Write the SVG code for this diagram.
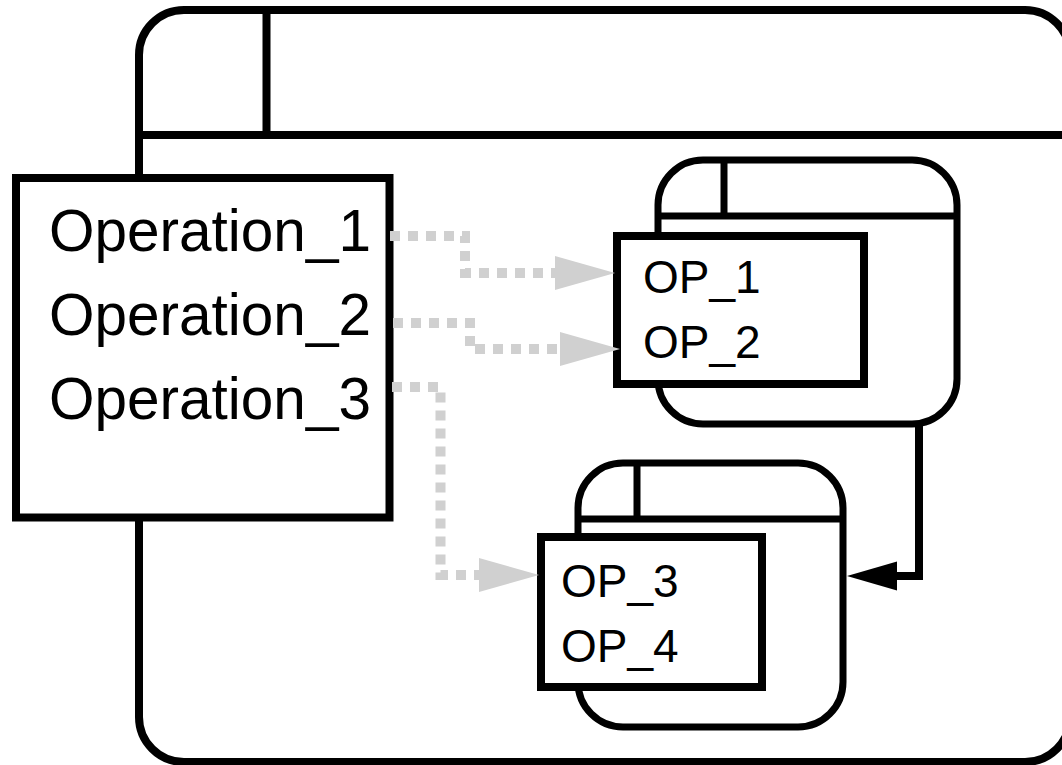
<svg xmlns="http://www.w3.org/2000/svg" width="1062" height="765" viewBox="0 0 1062 765">
  <style>
    .frame { fill: #ffffff; stroke: #000000; stroke-width: 7; }
    .rule { fill: none; stroke: #000000; stroke-width: 8; }
    .box { fill: #ffffff; stroke: #000000; stroke-width: 8; }
    .label { font-family: "Liberation Sans", Arial, Helvetica, sans-serif; fill: #000000; }
    .big { font-size: 58.5px; }
    .small { font-size: 46px; }
    .flow { fill: none; stroke: #d0d0d0; stroke-width: 10; stroke-dasharray: 10 8; }
    .link { fill: none; stroke: #000000; stroke-width: 8; }
  </style>
  <defs>
    <marker id="greyHead" markerUnits="userSpaceOnUse" orient="auto" refX="0" refY="0" markerWidth="70" markerHeight="40" viewBox="0 -20 70 40" overflow="visible">
      <path d="M0,-17 L60,0 L0,17 z" fill="#d0d0d0"/>
    </marker>
    <marker id="blackHead" markerUnits="userSpaceOnUse" orient="auto" refX="0" refY="0" markerWidth="60" markerHeight="34" viewBox="0 -17 60 34" overflow="visible">
      <path d="M0,-14.5 L50,0 L0,14.5 z" fill="#000000"/>
    </marker>
  </defs>

  <rect width="1062" height="765" fill="#ffffff"/>

  <!-- enclosing state -->
  <g id="outer-state">
    <rect class="frame" x="139" y="10" width="931" height="752" rx="45" ry="45" style="stroke-width:8"/>
    <line class="rule" x1="139" y1="135" x2="1070" y2="135"/>
    <line class="rule" x1="266.5" y1="10" x2="266.5" y2="135"/>
  </g>

  <!-- operation list -->
  <g id="operations">
    <rect class="box" x="16" y="178" width="373.5" height="339.5"/>
    <text class="label big" x="49" y="251">Operation_1</text>
    <text class="label big" x="49" y="335">Operation_2</text>
    <text class="label big" x="49" y="419">Operation_3</text>
  </g>

  <!-- first sub-state -->
  <g id="substate-1">
    <rect class="frame" x="658" y="160" width="299" height="264" rx="45" ry="45"/>
    <line class="rule" x1="658" y1="216" x2="957" y2="216" style="stroke-width:7"/>
    <line class="rule" x1="724" y1="160" x2="724" y2="216" style="stroke-width:7"/>
    <rect class="box" x="617" y="236" width="247" height="148"/>
    <text class="label small" x="643" y="293">OP_1</text>
    <text class="label small" x="643" y="358">OP_2</text>
  </g>

  <!-- second sub-state -->
  <g id="substate-2">
    <rect class="frame" x="578" y="463" width="265" height="264" rx="45" ry="45"/>
    <line class="rule" x1="578" y1="519" x2="843" y2="519" style="stroke-width:7"/>
    <line class="rule" x1="637" y1="463" x2="637" y2="519" style="stroke-width:7"/>
    <rect class="box" x="541" y="537" width="221" height="150"/>
    <text class="label small" x="561" y="597">OP_3</text>
    <text class="label small" x="561" y="662">OP_4</text>
  </g>

  <!-- connectors -->
  <g id="connectors">
    <path class="flow" d="M390,236 H465 V273 H555" marker-end="url(#greyHead)"/>
    <path class="flow" d="M393,323 H470 V349 H560" marker-end="url(#greyHead)"/>
    <path class="flow" d="M392,387 H440.5 V575 H479" marker-end="url(#greyHead)"/>
    <path class="link" d="M919,424 V576 H897" marker-end="url(#blackHead)"/>
  </g>
</svg>
